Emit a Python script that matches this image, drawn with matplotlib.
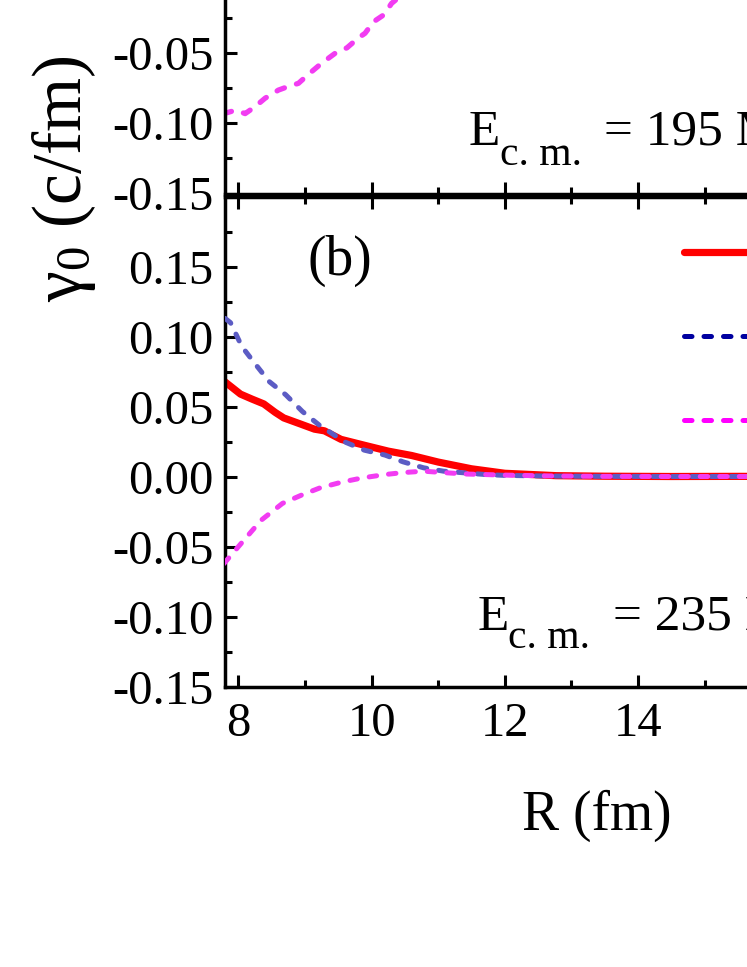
import numpy as np
import matplotlib
matplotlib.use("Agg")
import matplotlib.pyplot as plt
from matplotlib.lines import Line2D
from matplotlib.ticker import MultipleLocator, FixedLocator, FixedFormatter

plt.rcParams['font.family'] = ['Liberation Serif', 'DejaVu Serif']
plt.rcParams['mathtext.fontset'] = 'custom'
plt.rcParams['mathtext.rm'] = 'Liberation Serif'
plt.rcParams['mathtext.it'] = 'Liberation Serif:italic'
plt.rcParams['mathtext.bf'] = 'Liberation Serif:bold'

# ---------------- data ----------------
# panel (a): only the lower part is visible
a_mag_x = [7.78, 7.96, 8.1, 8.25, 8.4, 8.6, 8.78, 8.9, 9.05, 9.25, 9.45, 9.63,
           9.8, 9.9, 10.03, 10.18, 10.3, 10.46]
a_mag_y = [-0.093, -0.0905, -0.093, -0.088, -0.082, -0.0762, -0.0731, -0.0714,
           -0.065, -0.057, -0.050, -0.046, -0.039, -0.0357, -0.0274, -0.0226,
           -0.0143, -0.008]

# panel (b)
b_red_x = [7.79, 8.03, 8.2, 8.38, 8.55, 8.68, 8.94, 9.14, 9.29, 9.54, 9.9, 10.25,
           10.6, 11.0, 11.5, 12.0, 12.77, 13.5, 14.5, 15.5, 16.5, 17.5]
b_red_y = [0.068, 0.059, 0.0555, 0.052, 0.046, 0.042, 0.0375, 0.034, 0.0328,
           0.0267, 0.0224, 0.0183, 0.0152, 0.0105, 0.0057, 0.0025, 0.0008,
           0.0004, 0.0002, 0.0003, 0.0002, 0.0002]

b_blue_x = [7.8, 7.88, 8.05, 8.26, 8.46, 8.71, 8.96, 9.21, 9.59, 9.89, 10.2,
            10.47, 10.78, 11.08, 11.71, 12.0, 12.7, 13.5, 14.5, 15.5, 16.5, 17.5]
b_blue_y = [0.113, 0.110, 0.093, 0.080, 0.068, 0.0585, 0.0466, 0.037, 0.025,
            0.019, 0.0155, 0.0107, 0.0064, 0.004, 0.0016, 0.001, 0.0005,
            0.0003, 0.0002, 0.0002, 0.0002, 0.0002]

b_mag_x = [7.78, 8.05, 8.34, 8.66, 8.96, 9.23, 9.56, 9.86, 10.2, 10.47, 10.78,
           11.08, 11.4, 12.0, 12.7, 13.5, 14.5, 15.5, 16.5, 17.5]
b_mag_y = [-0.062, -0.047, -0.031, -0.019, -0.0128, -0.0078, -0.0037, -0.0008,
           0.0016, 0.003, 0.004, 0.003, 0.002, 0.0012, 0.0006, 0.0003, 0.0002,
           0.0002, 0.0002, 0.0002]

x_ticks = [8, 10, 12, 14, 16, 18, 20]
x_tick_labels = ["8", "10", "12", "14", "16", "18", "20"]
y_ticks = [-0.15, -0.10, -0.05, 0.00, 0.05, 0.10, 0.15]
y_tick_labels = ["-0.15", "-0.10", "-0.05", "0.00", "0.05", "0.10", "0.15"]
legend_labels = ["", "", ""]
energy_symbol = "E"
energy_sub = "c. m."
energy_a_value = "= 195 MeV"
energy_b_value = "= 235 MeV"
panel_b_label = "(b)"
x_label = "R (fm)"
y_label = r"$\mathrm{\gamma_0\ (c/fm)}$"

# ---------------- layout ----------------
W, H = 747, 967
fig = plt.figure(figsize=(W / 100, H / 100), dpi=100)

AX_L, AX_R = 224.5, 1037.5
AX_W = AX_R - AX_L
B_BOT, B_TOP = 687.0, 196.5
A_BOT = 193.5
AX_H = B_BOT - B_TOP

left = AX_L / W
width = AX_W / W
hgt = AX_H / H
ax_b = fig.add_axes([left, (H - B_BOT) / H, width, hgt])
ax_a = fig.add_axes([left, (H - A_BOT) / H, width, hgt])

RED = '#ff0000'
BLUE_LINE = '#5c5cc4'
BLUE_LEG = '#0000a0'
MAG_LINE = '#f23cf2'
MAG_LEG = '#ff00ff'
dash = (0, (1.5, 2.4))

ax_a.plot(a_mag_x, a_mag_y, color=MAG_LINE, lw=3.8, linestyle=dash,
          dash_capstyle='round')

ax_b.plot(b_red_x, b_red_y, color=RED, lw=5.2, solid_capstyle='round', zorder=2)
ax_b.plot(b_blue_x, b_blue_y, color=BLUE_LINE, lw=3.6, linestyle=dash,
          dash_capstyle='round', zorder=3)
ax_b.plot(b_mag_x, b_mag_y, color=MAG_LINE, lw=3.6, linestyle=dash,
          dash_capstyle='round', zorder=4)

for ax in (ax_a, ax_b):
    ax.set_xlim(7.79, 20)
    ax.set_ylim(-0.15, 0.20)
    ax.xaxis.set_major_locator(FixedLocator(x_ticks))
    ax.xaxis.set_major_formatter(FixedFormatter(x_tick_labels))
    ax.xaxis.set_minor_locator(MultipleLocator(1))
    ax.yaxis.set_major_locator(FixedLocator(y_ticks))
    ax.yaxis.set_major_formatter(FixedFormatter(y_tick_labels))
    ax.yaxis.set_minor_locator(MultipleLocator(0.025))
    ax.tick_params(which='both', direction='in', top=True, right=True, width=2.2)
    ax.tick_params(which='major', length=8.6, labelsize=35)
    ax.tick_params(which='minor', length=5)
    ax.tick_params(axis='y', pad=8)
    ax.tick_params(axis='x', pad=11)
    for s in ax.spines.values():
        s.set_linewidth(2.5)
    ax.patch.set_alpha(0)

ax_a.tick_params(axis='x', labelbottom=False)

ax_b.set_xlabel(x_label, fontsize=40)
ax_b.xaxis.set_label_coords((597 - AX_L) / AX_W, (B_BOT - 790) / AX_H)

fig.text(64 / W, 1 - 178.5 / H, y_label, rotation=90, ha='center', va='center',
         fontsize=50)

ax_b.text((340 - AX_L) / AX_W, (B_BOT - 261) / AX_H, panel_b_label,
          transform=ax_b.transAxes, ha='center', va='center', fontsize=40)


def energy_label(ax, bottom_px, e_left, e_base, sub_left, sub_base, eq_left, value):
    fx = lambda px: (px - AX_L) / AX_W
    fy = lambda py: (bottom_px - py) / AX_H
    ax.text(fx(e_left), fy(e_base), energy_symbol, transform=ax.transAxes,
            ha='left', va='baseline', fontsize=37)
    ax.text(fx(sub_left), fy(sub_base), energy_sub, transform=ax.transAxes,
            ha='left', va='baseline', fontsize=30)
    ax.text(fx(eq_left), fy(e_base), value, transform=ax.transAxes,
            ha='left', va='baseline', fontsize=37)


energy_label(ax_a, A_BOT, 468.5, 145, 500.5, 165, 604.5, energy_a_value)
energy_label(ax_b, B_BOT, 478.0, 630, 507.5, 648, 613.0, energy_b_value)

handles = [
    Line2D([], [], color=RED, lw=5.2, solid_capstyle='round'),
    Line2D([], [], color=BLUE_LEG, lw=3.6, linestyle=dash, dash_capstyle='round'),
    Line2D([], [], color=MAG_LEG, lw=3.6, linestyle=dash, dash_capstyle='round'),
]
ax_b.legend(handles, legend_labels, loc='upper left',
            bbox_to_anchor=(684 / W, 1 - 234.7 / H), bbox_transform=fig.transFigure,
            frameon=False, fontsize=35, handlelength=3, borderpad=0,
            borderaxespad=0, labelspacing=0.83, handletextpad=0.5)

fig.savefig('out.png', dpi=100)
